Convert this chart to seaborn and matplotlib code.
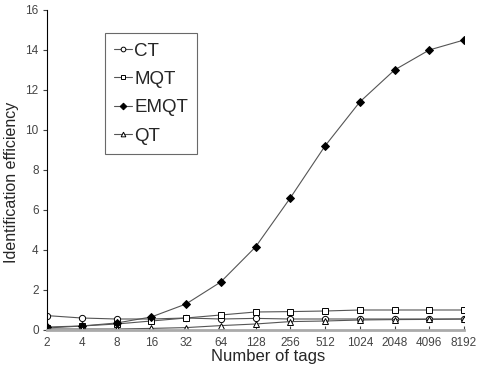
import numpy as np
import pandas as pd
import matplotlib
matplotlib.use('Agg')
import matplotlib.pyplot as plt
import seaborn as sns

tags = ['2', '4', '8', '16', '32', '64', '128', '256', '512', '1024', '2048', '4096', '8192']
ct = [0.72, 0.6, 0.55, 0.55, 0.6, 0.55, 0.58, 0.55, 0.55, 0.55, 0.55, 0.55, 0.55]
mqt = [0.1, 0.2, 0.3, 0.45, 0.6, 0.75, 0.9, 0.92, 0.95, 1.0, 1.0, 1.0, 1.0]
emqt = [0.15, 0.2, 0.35, 0.65, 1.3, 2.4, 4.15, 6.6, 9.2, 11.4, 13.0, 14.0, 14.5]
qt = [0.05, 0.05, 0.05, 0.08, 0.12, 0.22, 0.3, 0.42, 0.45, 0.5, 0.52, 0.53, 0.55]

sns.set_style('white')
plt.rcParams['font.family'] = ['Liberation Sans', 'DejaVu Sans']

pos = np.arange(len(tags))
fig = plt.figure(figsize=(4.78, 3.66), dpi=100)
ax = fig.add_axes([47/478, 36/366, 417/478, 320/366])

styles = [
    ('CT', ct, 'o', 'white', 4.5),
    ('MQT', mqt, 's', 'white', 4.5),
    ('EMQT', emqt, 'D', 'black', 4.5),
    ('QT', qt, '^', 'white', 4.5),
]
for name, vals, m, fc, ms in styles:
    sns.lineplot(x=pos, y=vals, ax=ax, color='#555555', lw=0.8, marker=m,
                 markersize=ms, markerfacecolor=fc, markeredgecolor='black',
                 markeredgewidth=0.7, label=name)

ax.set_xlim(0, 12)
ax.set_ylim(0, 16)
ax.set_xticks(pos)
ax.set_xticklabels(tags)
ax.set_yticks(np.arange(0, 17, 2))
ax.tick_params(axis='x', direction='in', length=3, color='#444444', labelsize=8.5,
               labelcolor='#444444', pad=5)
ax.tick_params(axis='y', direction='out', length=3, color='#444444', labelsize=8.5,
               labelcolor='#444444', pad=3)
ax.tick_params(left=True, bottom=True)

for s in ['top', 'right']:
    ax.spines[s].set_visible(False)
ax.spines['left'].set_color('black')
ax.spines['left'].set_linewidth(0.8)
ax.spines['bottom'].set_color('#aaaaaa')
ax.spines['bottom'].set_linewidth(2)

ax.set_xlabel('Number of tags', fontsize=12)
ax.set_ylabel('Identification efficiency', fontsize=11.5)
ax.xaxis.set_label_coords(0.53, -0.058)
ax.yaxis.set_label_coords(-0.068, 0.46)

leg = ax.legend(loc='upper left', bbox_to_anchor=(58/417, 1 - 23/320), fontsize=13.5,
                frameon=True, fancybox=False, edgecolor='#444444',
                handlelength=0.95, handletextpad=0.1, labelspacing=0.6,
                borderpad=0.5, borderaxespad=0, markerscale=0.75)
leg.get_frame().set_linewidth(0.8)

fig.savefig('out.png', dpi=100)
